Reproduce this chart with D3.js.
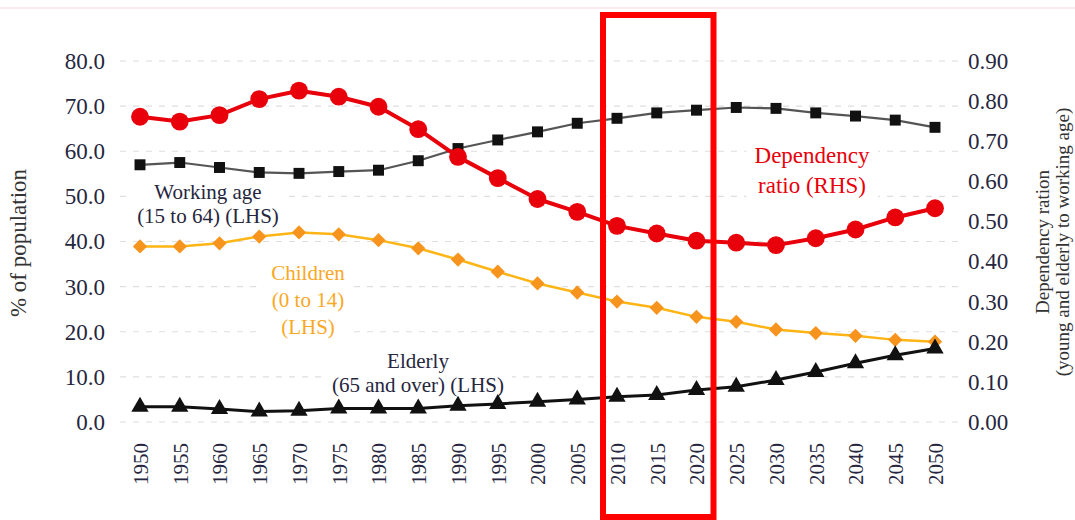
<!DOCTYPE html>
<html>
<head>
<meta charset="utf-8">
<script src="https://cdn.jsdelivr.net/npm/d3@7"></script>
<style>
  body { margin: 0; background: #fff; }
  svg { display: block; font-family: "Liberation Serif", "DejaVu Serif", serif; }
</style>
</head>
<body>
<svg id="chart"></svg>
<script>
// data
const years = [1950, 1955, 1960, 1965, 1970, 1975, 1980, 1985, 1990, 1995, 2000,
  2005, 2010, 2015, 2020, 2025, 2030, 2035, 2040, 2045, 2050];
const workingAge = [57.0, 57.5, 56.4, 55.3, 55.1, 55.5, 55.8, 57.9, 60.6, 62.5, 64.3,
  66.2, 67.3, 68.5, 69.1, 69.7, 69.5, 68.5, 67.8, 66.9, 65.3];
const children = [38.9, 38.9, 39.6, 41.1, 42.0, 41.6, 40.3, 38.5, 36.0, 33.3, 30.7,
  28.7, 26.7, 25.3, 23.3, 22.2, 20.5, 19.7, 19.1, 18.2, 17.8];
const elderly = [3.4, 3.4, 2.9, 2.3, 2.5, 3.0, 3.0, 3.0, 3.6, 4.0, 4.5,
  5.0, 5.6, 6.0, 7.1, 7.8, 9.3, 11.1, 13.0, 14.8, 16.3];
const dependency = [0.761, 0.749, 0.765, 0.805, 0.826, 0.811, 0.786, 0.730, 0.661, 0.608, 0.556,
  0.524, 0.489, 0.470, 0.452, 0.447, 0.441, 0.458, 0.480, 0.510, 0.533];
const leftTicks = [0, 10, 20, 30, 40, 50, 60, 70, 80];
const rightTicks = [0, 0.1, 0.2, 0.3, 0.4, 0.5, 0.6, 0.7, 0.8, 0.9];
const highlightYears = [2010, 2020];

const width = 1075, height = 520;
const svg = d3.select("#chart").attr("width", width).attr("height", height);

const x = d3.scaleLinear().domain([1950, 2050]).range([140, 935]);
const yL = d3.scaleLinear().domain([0, 80]).range([422, 61]);
const yR = d3.scaleLinear().domain([0, 0.9]).range([422, 61]);

const textColor = "#26263e";

// faint line at the top
svg.append("line")
  .attr("x1", 0).attr("x2", width).attr("y1", 8).attr("y2", 8)
  .attr("stroke", "#fbe3e6").attr("stroke-width", 1.5);

// gridlines
svg.append("g")
  .selectAll("line")
  .data(leftTicks)
  .join("line")
  .attr("x1", 120).attr("x2", 958)
  .attr("y1", d => yL(d)).attr("y2", d => yL(d))
  .attr("stroke", "#dedede")
  .attr("stroke-width", 1.2)
  .attr("stroke-dasharray", "6,7");

// left axis
const axL = svg.append("g")
  .attr("transform", "translate(112,0)")
  .call(d3.axisLeft(yL).tickValues(leftTicks).tickFormat(d3.format(".1f")).tickSize(0).tickPadding(7));
axL.select(".domain").remove();
axL.selectAll("text")
  .attr("font-family", "Liberation Serif").attr("font-size", 23).attr("fill", textColor);

// right axis
const axR = svg.append("g")
  .attr("transform", "translate(962,0)")
  .call(d3.axisRight(yR).tickValues(rightTicks).tickFormat(d3.format(".2f")).tickSize(0).tickPadding(6));
axR.select(".domain").remove();
axR.selectAll("text")
  .attr("font-family", "Liberation Serif").attr("font-size", 23).attr("fill", textColor);

// bottom axis, rotated year labels
const axB = svg.append("g")
  .attr("transform", "translate(0,440)")
  .call(d3.axisBottom(x).tickValues(years).tickFormat(d3.format("d")).tickSize(0).tickPadding(0));
axB.select(".domain").remove();
axB.selectAll("text")
  .attr("font-family", "Liberation Serif").attr("font-size", 21).attr("fill", textColor)
  .attr("transform", "rotate(-90)")
  .attr("text-anchor", "end")
  .attr("x", -3).attr("y", 0).attr("dy", "0.35em");

// axis titles
svg.append("text")
  .attr("transform", "translate(26,243) rotate(-90)")
  .attr("text-anchor", "middle")
  .attr("font-size", 23).attr("fill", "#333")
  .text("% of population");

const rt = svg.append("text")
  .attr("transform", "translate(1049,242) rotate(-90)")
  .attr("text-anchor", "middle")
  .attr("font-size", 19).attr("fill", "#333");
rt.append("tspan").attr("x", 0).attr("dy", 0).text("Dependency ration");
rt.append("tspan").attr("x", 0).attr("dy", 20).text("(young and elderly to working age)");

// series labels, each on a white patch that hides the grid behind it
const label = (lines, cx, y0, dy, size, color) => {
  const g = svg.append("g");
  const bg = g.append("rect").attr("fill", "#fff");
  const t = g.append("text")
    .attr("text-anchor", "middle")
    .attr("font-size", size)
    .attr("fill", color);
  lines.forEach((l, i) => t.append("tspan").attr("x", cx).attr("y", y0 + i * dy).text(l));
  const b = t.node().getBBox();
  bg.attr("x", b.x - 8).attr("y", b.y - 3).attr("width", b.width + 16).attr("height", b.height + 6);
};
label(["Working age", "(15 to 64) (LHS)"], 208, 199, 24, 21, textColor);
label(["Children", "(0 to 14)", "(LHS)"], 308, 280, 27, 21, "#f9a825");
label(["Elderly", "(65 and over) (LHS)"], 418, 368, 24, 21, textColor);
label(["Dependency", "ratio (RHS)"], 812, 163, 30, 23, "#e8000b");

// lines and markers
const series = [
  { values: children, y: yL, line: "#fdb515", lw: 2.5, fill: "#f7941d", shape: d3.symbolDiamond2, size: 130 },
  { values: elderly, y: yL, line: "#111", lw: 3, fill: "#111", shape: d3.symbolTriangle, size: 130 },
  { values: workingAge, y: yL, line: "#555", lw: 2.2, fill: "#111", shape: d3.symbolSquare, size: 120 },
  { values: dependency, y: yR, line: "#e8000b", lw: 4, fill: "#e8000b", shape: d3.symbolCircle, size: 250 }
];

series.forEach(s => {
  const pts = years.map((yr, i) => [yr, s.values[i]]);
  svg.append("path")
    .datum(pts)
    .attr("fill", "none")
    .attr("stroke", s.line)
    .attr("stroke-width", s.lw)
    .attr("stroke-linejoin", "round")
    .attr("d", d3.line().x(d => x(d[0])).y(d => s.y(d[1])));
  svg.append("g")
    .selectAll("path")
    .data(pts)
    .join("path")
    .attr("transform", d => `translate(${x(d[0])},${s.y(d[1])})`)
    .attr("d", d3.symbol().type(s.shape).size(s.size))
    .attr("fill", s.fill);
});

// highlight box
svg.append("rect")
  .attr("x", x(highlightYears[0]) - 14)
  .attr("y", 15)
  .attr("width", x(highlightYears[1]) - x(highlightYears[0]) + 31)
  .attr("height", 502)
  .attr("fill", "none")
  .attr("stroke", "#ff0000")
  .attr("stroke-width", 6);
</script>
</body>
</html>
